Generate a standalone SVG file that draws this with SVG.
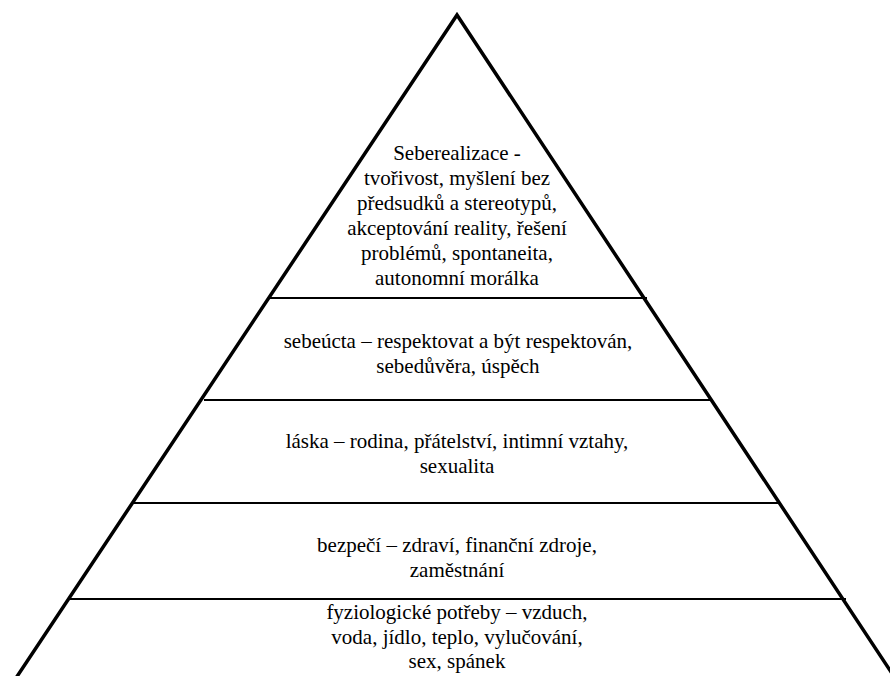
<svg xmlns="http://www.w3.org/2000/svg" width="890" height="676" viewBox="0 0 890 676">
<style>
.side{stroke:#000;stroke-width:3.5;fill:none;stroke-linecap:butt}
.div{stroke:#000;stroke-width:2;fill:none}
.t{font-family:'Liberation Serif','Times New Roman',serif;font-size:21px;fill:#000;text-anchor:middle}
</style>
<rect width="890" height="676" fill="#fff"/>
<g id="pyramid">
<polyline class="side" points="16,678 457,15 895,678"/>
</g>
<g id="connectors">
<line class="div" x1="268" y1="298" x2="647" y2="298"/>
<line class="div" x1="204" y1="400" x2="712" y2="400"/>
<line class="div" x1="133" y1="503" x2="780" y2="503"/>
<line class="div" x1="69" y1="599" x2="846" y2="599"/>
</g>
<g id="level5" class="t">
<text x="457" y="160">Seberealizace -</text>
<text x="457" y="185">tvořivost, myšlení bez</text>
<text x="457" y="210">předsudků a stereotypů,</text>
<text x="457" y="235">akceptování reality, řešení</text>
<text x="457" y="260">problémů, spontaneita,</text>
<text x="457" y="285">autonomní morálka</text>
</g>
<g id="level4" class="t">
<text x="458" y="348">sebeúcta – respektovat a být respektován,</text>
<text x="458" y="373">sebedůvěra, úspěch</text>
</g>
<g id="level3" class="t">
<text x="457" y="448">láska – rodina, přátelství, intimní vztahy,</text>
<text x="457" y="473">sexualita</text>
</g>
<g id="level2" class="t">
<text x="457" y="552">bezpečí – zdraví, finanční zdroje,</text>
<text x="457" y="577">zaměstnání</text>
</g>
<g id="level1" class="t">
<text x="457" y="619">fyziologické potřeby – vzduch,</text>
<text x="457" y="644">voda, jídlo, teplo, vylučování,</text>
<text x="457" y="668">sex, spánek</text>
</g>
</svg>
